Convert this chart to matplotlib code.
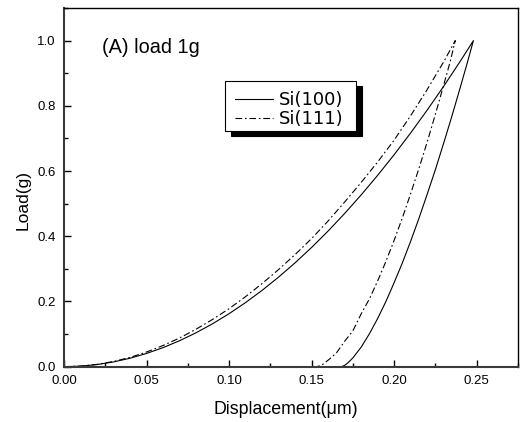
import matplotlib
matplotlib.use("Agg")
import matplotlib.pyplot as plt
from matplotlib.ticker import MultipleLocator, FormatStrFormatter
from matplotlib.patches import Rectangle

plt.rcParams['font.family'] = ['Liberation Sans', 'DejaVu Sans']

# Si(100) loading / unloading (displacement um, load g)
si100_load_h = [0.0, 0.01, 0.02, 0.03, 0.04, 0.05, 0.06, 0.07, 0.08, 0.09, 0.10, 0.11, 0.12,
                0.13, 0.14, 0.15, 0.16, 0.17, 0.18, 0.19, 0.20, 0.21, 0.22, 0.23, 0.24, 0.248]
si100_load_p = [0.0, 0.0016, 0.0065, 0.0146, 0.0260, 0.0406, 0.0585, 0.0797, 0.1041, 0.1317,
                0.1626, 0.1967, 0.2341, 0.2748, 0.3187, 0.3658, 0.4162, 0.4699, 0.5268, 0.5870,
                0.6503, 0.7170, 0.7869, 0.8601, 0.9365, 1.0]
si100_unl_h = [0.248, 0.244, 0.240, 0.235, 0.230, 0.225, 0.220, 0.215, 0.210, 0.205, 0.200,
               0.195, 0.190, 0.185, 0.180, 0.175, 0.172, 0.170, 0.168]
si100_unl_p = [1.0, 0.927, 0.856, 0.769, 0.686, 0.605, 0.529, 0.455, 0.385, 0.319, 0.258,
               0.200, 0.148, 0.101, 0.060, 0.027, 0.012, 0.004, 0.0]

# Si(111)
si111_load_h = [0.0, 0.01, 0.02, 0.03, 0.04, 0.05, 0.06, 0.07, 0.08, 0.09, 0.10, 0.11, 0.12,
                0.13, 0.14, 0.15, 0.16, 0.17, 0.18, 0.19, 0.20, 0.21, 0.22, 0.23, 0.237]
si111_load_p = [0.0, 0.0018, 0.0071, 0.016, 0.0285, 0.045, 0.065, 0.088, 0.115, 0.145, 0.178,
                0.215, 0.255, 0.298, 0.344, 0.393, 0.447, 0.505, 0.565, 0.628, 0.695, 0.770,
                0.850, 0.935, 1.0]
si111_unl_h = [0.237, 0.234, 0.230, 0.225, 0.220, 0.215, 0.210, 0.205, 0.200, 0.195, 0.190,
               0.185, 0.180, 0.175, 0.170, 0.165, 0.160, 0.156, 0.153]
si111_unl_p = [1.0, 0.937, 0.864, 0.775, 0.689, 0.608, 0.531, 0.457, 0.388, 0.323, 0.263,
               0.208, 0.162, 0.110, 0.078, 0.042, 0.020, 0.0045, 0.0]

labels = ['Si(100)', 'Si(111)']

W, H = 520, 422
fig = plt.figure(figsize=(5.2, 4.22), dpi=100)
ax_l, ax_r, ax_t, ax_b = 64, 518, 8, 366.7
ax = fig.add_axes([ax_l/W, (H-ax_b)/H, (ax_r-ax_l)/W, (ax_b-ax_t)/H])

def axx(px):
    return (px - ax_l) / (ax_r - ax_l)

def axy(py):
    return 1 - (py - ax_t) / (ax_b - ax_t)

dd = (0, (6, 2.5, 1.5, 2.5))
h100 = si100_load_h + si100_unl_h[1:]
p100 = si100_load_p + si100_unl_p[1:]
h111 = si111_load_h + si111_unl_h[1:]
p111 = si111_load_p + si111_unl_p[1:]
ax.plot(h100, p100, color='black', lw=0.8, label=labels[0])
ax.plot(h111, p111, color='black', lw=0.8, linestyle=dd, label=labels[1])

ax.set_xlim(0, 0.275)
ax.set_ylim(0, 1.1)
ax.xaxis.set_major_locator(MultipleLocator(0.05))
ax.xaxis.set_minor_locator(MultipleLocator(0.025))
ax.yaxis.set_major_locator(MultipleLocator(0.2))
ax.yaxis.set_minor_locator(MultipleLocator(0.1))
ax.xaxis.set_major_formatter(FormatStrFormatter('%.2f'))
ax.yaxis.set_major_formatter(FormatStrFormatter('%.1f'))
ax.tick_params(which='both', direction='in', top=False, right=False, labelsize=9.5)
ax.tick_params(which='major', length=5, width=1.0, pad=6)
ax.tick_params(which='minor', length=3, width=1.0)

for s in ['left', 'bottom']:
    ax.spines[s].set_linewidth(1.5)
    ax.spines[s].set_color('#3a3a3a')
for s in ['top', 'right']:
    ax.spines[s].set_linewidth(1.0)
    ax.spines[s].set_color('black')

ax.set_xlabel('Displacement(\u03bcm)', fontsize=12.8)
ax.xaxis.set_label_coords(0.488, -0.118)
ax.xaxis.label.set_va('center')
ax.set_ylabel('Load(g)', fontsize=12.5)
ax.yaxis.set_label_coords(-0.090, 0.466)
ax.yaxis.label.set_va('center')

ax.text(0.023, 0.98, '(A) load 1g', fontsize=14.3, ha='left', va='center')

# legend frame with solid shadow
bx0, bx1, by0, by1 = 225, 356, 80.7, 130.7
off = 5.5
ax.add_patch(Rectangle((axx(bx0 + off), axy(by1 + off)), axx(bx1) - axx(bx0), axy(by0) - axy(by1),
                       transform=ax.transAxes, facecolor='black', edgecolor='black', lw=0.8,
                       zorder=5, clip_on=False))
ax.add_patch(Rectangle((axx(bx0), axy(by1)), axx(bx1) - axx(bx0), axy(by0) - axy(by1),
                       transform=ax.transAxes, facecolor='white', edgecolor='black', lw=0.8,
                       zorder=6, clip_on=False))
leg = ax.legend(loc='center left', bbox_to_anchor=(axx(235), axy(109.5)), borderaxespad=0,
                borderpad=0, prop={'family': 'DejaVu Sans', 'size': 13}, frameon=False,
                handlelength=2.1, handletextpad=0.33, labelspacing=0.05)
leg.set_zorder(7)

fig.savefig('out.png', dpi=100)
